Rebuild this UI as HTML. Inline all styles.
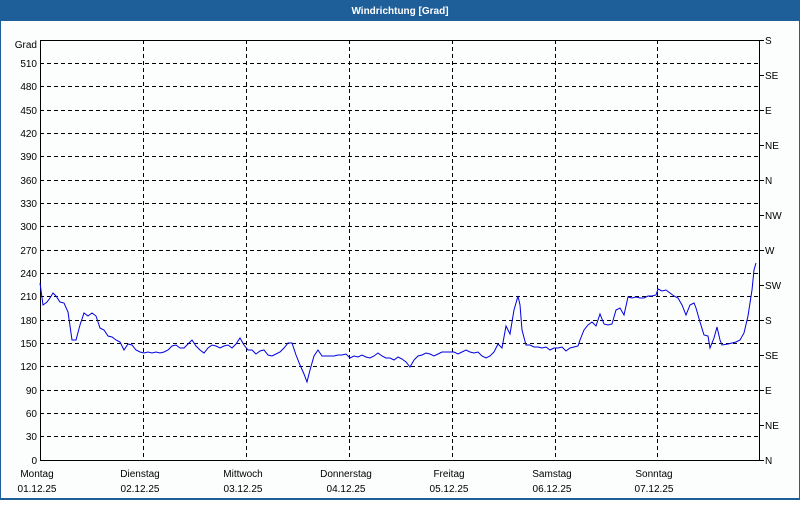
<!DOCTYPE html>
<html><head><meta charset="utf-8"><style>
body{margin:0;width:800px;height:500px;overflow:hidden;background:#fff;font-family:"Liberation Sans",sans-serif}
</style></head><body>
<svg width="800" height="500" xmlns="http://www.w3.org/2000/svg" font-family="Liberation Sans, sans-serif" font-size="10">
<rect x="0" y="0" width="800" height="500" fill="#1e5f9a"/>
<rect x="1" y="21" width="798" height="477" fill="#fcfdfd"/>
<text x="400" y="14" fill="#fff" font-weight="bold" text-anchor="middle" font-size="10">Windrichtung [Grad]</text>
<g stroke="#000" stroke-dasharray="4,3" stroke-width="1">
<path d="M40 63.5H760M40 86.5H760M40 110.5H760M40 133.5H760M40 156.5H760M40 180.5H760M40 203.5H760M40 226.5H760M40 250.5H760M40 273.5H760M40 296.5H760M40 320.5H760M40 343.5H760M40 366.5H760M40 390.5H760M40 413.5H760M40 436.5H760"/>
<path d="M143.5 40V460M246.5 40V460M349.5 40V460M452.5 40V460M555.5 40V460M657.5 40V460"/>
</g>
<path d="M40.5 460V40.5H759.5V460.5H40" fill="none" stroke="#000"/>
<g stroke="#000"><path d="M760 75.5h4M760 110.5h4M760 145.5h4M760 180.5h4M760 215.5h4M760 250.5h4M760 285.5h4M760 320.5h4M760 355.5h4M760 390.5h4M760 425.5h4M760 40.5h4M760 460.5h4"/></g>
<g text-anchor="end" fill="#000">
<text x="37" y="48">Grad</text>
<text x="37" y="67">510</text><text x="37" y="90">480</text><text x="37" y="114">450</text><text x="37" y="137">420</text><text x="37" y="160">390</text><text x="37" y="184">360</text><text x="37" y="207">330</text><text x="37" y="230">300</text><text x="37" y="254">270</text><text x="37" y="277">240</text><text x="37" y="300">210</text><text x="37" y="324">180</text><text x="37" y="347">150</text><text x="37" y="370">120</text><text x="37" y="394">90</text><text x="37" y="417">60</text><text x="37" y="440">30</text><text x="37" y="464">0</text>
</g>
<g fill="#000">
<text x="765" y="44">S</text><text x="765" y="79">SE</text><text x="765" y="114">E</text><text x="765" y="149">NE</text><text x="765" y="184">N</text><text x="765" y="219">NW</text><text x="765" y="254">W</text><text x="765" y="289">SW</text><text x="765" y="324">S</text><text x="765" y="359">SE</text><text x="765" y="394">E</text><text x="765" y="429">NE</text><text x="765" y="464">N</text>
</g>
<g fill="#000" text-anchor="middle">
<text x="37" y="477">Montag</text><text x="37" y="492">01.12.25</text>
<text x="140" y="477">Dienstag</text><text x="140" y="492">02.12.25</text>
<text x="243" y="477">Mittwoch</text><text x="243" y="492">03.12.25</text>
<text x="346" y="477">Donnerstag</text><text x="346" y="492">04.12.25</text>
<text x="449" y="477">Freitag</text><text x="449" y="492">05.12.25</text>
<text x="552" y="477">Samstag</text><text x="552" y="492">06.12.25</text>
<text x="654" y="477">Sonntag</text><text x="654" y="492">07.12.25</text>
</g>
<polyline fill="none" stroke="#0000e0" stroke-width="1" points="40,283 43,305 47,302 50,298 53,293 56,296 60,302 64,303 68,312 72,340 76,340 80,325 84,313 88,316 92,313 96,316 100,328 104,330 108,336 112,337 116,340 120,342 124,350 128,344 132,345 136,350 140,352 144,353 148,352 152,353 156,352 160,353 164,352 168,350 172,346 176,345 180,348 184,348 188,344 192,340 196,346 200,350 204,353 208,348 212,345 216,346 220,348 224,346 228,345 232,348 236,344 240,338 244,345 248,350 252,350 256,354 260,351 264,350 268,355 272,356 276,354 280,352 284,348 288,343 292,343 296,355 300,365 304,374 307,382 310,370 314,356 318,350 322,356 326,356 330,356 334,356 338,355 342,355 346,354 350,358 354,356 358,357 362,355 366,357 370,358 374,356 378,353 382,356 386,358 390,358 394,360 398,357 402,359 406,362 410,367 414,360 418,356 422,355 426,353 430,354 434,356 438,354 442,352 446,352 450,352 454,352 458,354 462,352 466,350 470,352 474,353 478,352 482,356 486,358 490,356 494,352 498,344 502,348 506,326 510,334 514,310 518,296 520,305 522,330 526,345 530,345 534,347 538,347 542,348 546,347 550,350 554,348 558,348 562,347 566,351 570,348 574,347 578,346 580,340 584,330 588,325 592,322 596,326 600,314 604,324 608,325 612,324 616,310 620,308 624,315 628,297 632,298 636,297 640,298 644,298 648,296 652,296 656,295 658,289 662,291 666,290 670,293 674,296 678,298 682,305 686,315 690,305 694,303 696,308 700,322 704,335 708,336 710,348 714,338 717,327 720,340 722,345 728,344 732,343 736,342 740,340 744,333 748,316 752,290 754,270 756,263"/>
</svg>
</body></html>
